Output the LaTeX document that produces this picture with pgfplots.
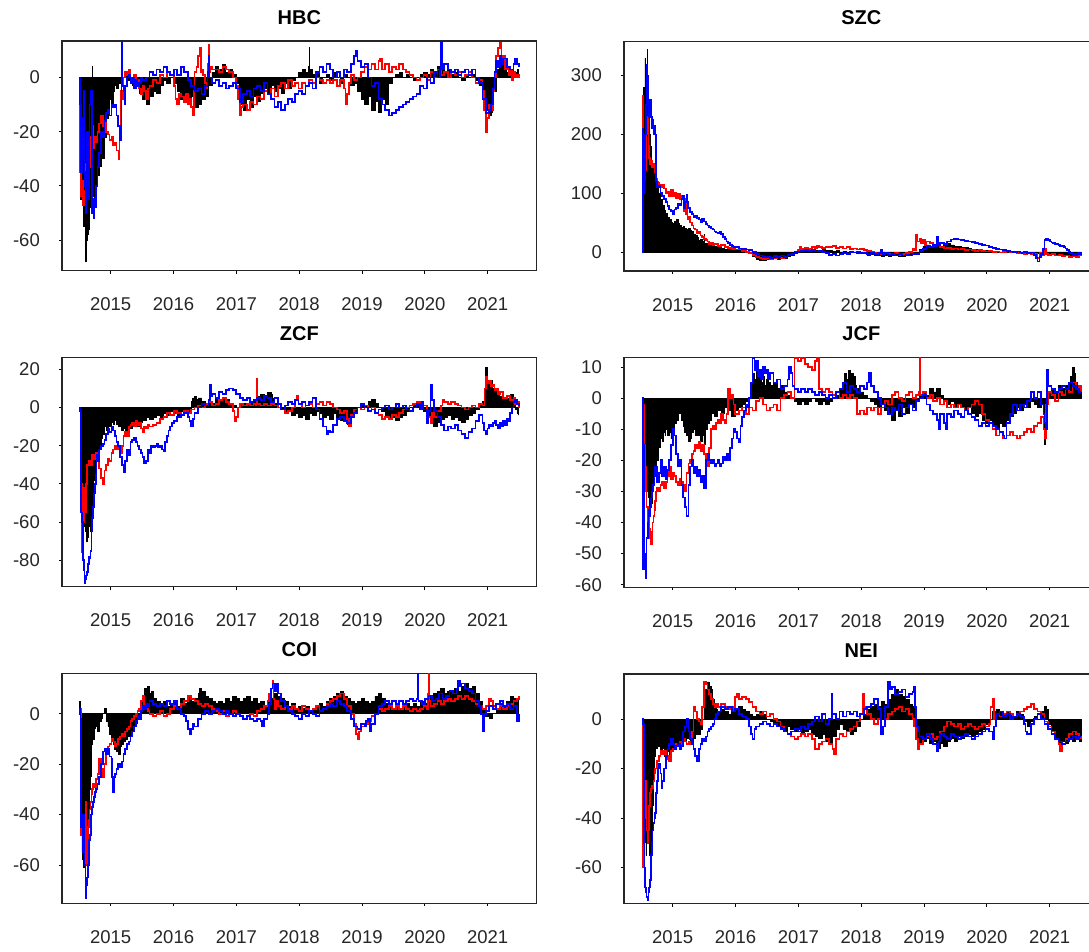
\documentclass[border=0pt]{standalone}
\usepackage{pgfplots}
\pgfplotsset{compat=1.18}
\usepackage{fontspec}
\setmainfont{Liberation Sans}
\pgfplotsset{
  panel/.style={
    scale only axis, width=474.7pt, height=229.5pt,
    anchor=north west,
    xmin=2014.225, xmax=2021.78,
    xtick={2015,2016,2017,2018,2019,2020,2021},
    xticklabels={2015,2016,2017,2018,2019,2020,2021},
    axis line style={line width=1.1pt, black!85},
    xtick pos=bottom, ytick pos=left,
    tick align=outside, major tick length=3pt,
    tick style={black, line width=0.8pt},
    /pgf/number format/assume math mode=true,
    ticklabel style={font=\fontsize{18.5}{20}\selectfont, text=black!85},
    xticklabel style={anchor=north, inner sep=0pt, yshift=-24pt},
    yticklabel style={anchor=east, inner sep=0pt, xshift=-19pt},
    title style={font=\bfseries\fontsize{20}{22}\selectfont, anchor=base, at={(0.5,1)}, yshift=11pt, inner sep=0pt},
  },
  blk/.style={black, fill=black, line width=0.8pt, const plot},
  rd/.style={red, line width=1.7pt, const plot},
  bl/.style={blue, line width=1.7pt, const plot},
}
\begin{document}
\begin{tikzpicture}
\useasboundingbox (0pt,0pt) rectangle (1089pt,-951pt);
\clip (0pt,0pt) rectangle (1089pt,-951pt);
% ---------------- HBC
\begin{axis}[panel, at={(62pt,-41pt)}, title={HBC}, ymin=-71.3, ymax=13.5, ytick={-60,-40,-20,0}]
\addplot[blk] coordinates {(2014.503,0) (2014.514,-35) (2014.525,-45) (2014.542,-40) (2014.570,-55) (2014.590,-45) (2014.597,-68) (2014.610,-60) (2014.625,-58) (2014.640,-50) (2014.652,-56) (2014.665,-40) (2014.675,-48) (2014.700,-45) (2014.706,4) (2014.712,-44) (2014.735,-48) (2014.763,-40) (2014.790,-36) (2014.818,-33) (2014.845,-28) (2014.873,-30) (2014.901,-22) (2014.928,-15) (2014.956,-12) (2014.983,-8) (2015.011,-10) (2015.039,-5) (2015.066,-3) (2015.094,-4) (2015.121,-2) (2015.149,-1) (2015.177,0) (2015.232,2) (2015.287,-1) (2015.342,-3) (2015.400,-2) (2015.453,-6) (2015.508,-8) (2015.563,-10) (2015.618,-7) (2015.673,-5) (2015.728,-6) (2015.784,-3) (2015.839,-1) (2015.894,-2) (2015.949,0) (2016.004,-2) (2016.060,-5) (2016.115,-8) (2016.170,-6) (2016.225,-10) (2016.280,-7) (2016.336,-11) (2016.391,-10) (2016.446,-8) (2016.501,-7) (2016.556,-3) (2016.611,2) (2016.667,4) (2016.722,3) (2016.777,5) (2016.832,2) (2016.887,3) (2016.943,1) (2016.998,-2) (2017.053,-10) (2017.108,-12) (2017.164,-8) (2017.219,-11) (2017.274,-7) (2017.329,-9) (2017.384,-6) (2017.439,-4) (2017.494,-6) (2017.550,-3) (2017.605,-5) (2017.660,-4) (2017.715,-6) (2017.770,-2) (2017.825,-4) (2017.881,-1) (2017.936,0) (2017.991,2) (2018.046,3) (2018.102,2) (2018.150,4) (2018.157,11) (2018.165,3) (2018.212,1) (2018.267,2) (2018.322,-2) (2018.377,0) (2018.433,1) (2018.488,-1) (2018.543,2) (2018.598,0) (2018.653,-2) (2018.709,1) (2018.764,0) (2018.819,-3) (2018.874,-2) (2018.929,-5) (2018.985,-8) (2019.040,-10) (2019.095,-7) (2019.150,-12) (2019.205,-9) (2019.260,-13) (2019.316,-8) (2019.371,-10) (2019.426,-2) (2019.481,0) (2019.536,1) (2019.591,2) (2019.647,0) (2019.702,1) (2019.757,0) (2019.812,-1) (2019.868,0) (2019.923,1) (2019.978,2) (2020.033,1) (2020.088,3) (2020.143,2) (2020.199,4) (2020.254,5) (2020.309,2) (2020.364,3) (2020.419,1) (2020.475,2) (2020.530,0) (2020.585,-1) (2020.640,1) (2020.695,0) (2020.751,1) (2020.806,-1) (2020.861,-3) (2020.916,-8) (2020.971,-12) (2021.026,-14) (2021.054,-13) (2021.082,-5) (2021.137,3) (2021.192,5) (2021.247,4) (2021.302,2) (2021.358,3) (2021.413,2) (2021.468,3) (2021.495,2)} \closedcycle;
\addplot[rd] coordinates {(2014.503,0) (2014.514,-35) (2014.525,-44) (2014.542,-38) (2014.556,-47) (2014.570,-42) (2014.584,-46) (2014.597,-32) (2014.611,-40) (2014.625,-30) (2014.640,-36) (2014.652,-28) (2014.665,-33) (2014.680,-22) (2014.694,-28) (2014.708,-18) (2014.722,-26) (2014.735,-22) (2014.763,-24) (2014.790,-20) (2014.818,-17) (2014.845,-14) (2014.873,-18) (2014.901,-16) (2014.928,-20) (2014.956,-21) (2014.983,-23) (2015.011,-22) (2015.039,-25) (2015.066,-24) (2015.094,-27) (2015.132,-30) (2015.140,-20) (2015.149,-22) (2015.163,-5) (2015.177,-8) (2015.204,0) (2015.232,2) (2015.259,1) (2015.287,3) (2015.315,0) (2015.342,-2) (2015.370,1) (2015.398,-3) (2015.425,-1) (2015.453,-4) (2015.480,-6) (2015.508,-3) (2015.535,-5) (2015.563,-8) (2015.590,-4) (2015.618,-3) (2015.673,-1) (2015.728,-2) (2015.784,1) (2015.839,0) (2015.894,2) (2015.949,1) (2016.004,-3) (2016.032,-8) (2016.060,-10) (2016.087,-6) (2016.115,-7) (2016.170,-9) (2016.198,-6) (2016.225,-10) (2016.253,-8) (2016.280,-11) (2016.308,-14) (2016.322,-5) (2016.336,2) (2016.364,4) (2016.391,8) (2016.418,11) (2016.432,2) (2016.446,3) (2016.473,1) (2016.501,-2) (2016.528,-4) (2016.542,5) (2016.556,12) (2016.570,2) (2016.584,4) (2016.611,3) (2016.667,3) (2016.722,2) (2016.777,4) (2016.832,3) (2016.887,2) (2016.943,0) (2016.998,-3) (2017.025,-8) (2017.053,-14) (2017.081,-11) (2017.108,-10) (2017.164,-12) (2017.219,-9) (2017.274,-10) (2017.329,-7) (2017.384,-8) (2017.439,-5) (2017.494,-6) (2017.550,-4) (2017.605,-7) (2017.660,-3) (2017.715,-2) (2017.770,-4) (2017.825,-1) (2017.881,-3) (2017.936,-2) (2017.991,-4) (2018.046,-2) (2018.102,-3) (2018.157,-1) (2018.212,-2) (2018.267,0) (2018.322,-1) (2018.377,-2) (2018.433,-1) (2018.488,-2) (2018.543,-1) (2018.598,-3) (2018.653,-1) (2018.709,-4) (2018.736,-10) (2018.764,-6) (2018.791,-2) (2018.819,1) (2018.874,-1) (2018.929,0) (2018.985,2) (2019.040,4) (2019.095,3) (2019.150,5) (2019.205,3) (2019.260,6) (2019.288,7) (2019.316,3) (2019.371,5) (2019.426,2) (2019.481,4) (2019.536,3) (2019.591,5) (2019.647,3) (2019.702,2) (2019.757,1) (2019.812,0) (2019.868,-1) (2019.923,0) (2019.978,1) (2020.033,-1) (2020.088,2) (2020.143,0) (2020.199,3) (2020.254,1) (2020.309,2) (2020.364,0) (2020.419,2) (2020.475,1) (2020.530,2) (2020.585,0) (2020.640,1) (2020.695,2) (2020.751,0) (2020.806,-2) (2020.861,-1) (2020.916,-5) (2020.943,-12) (2020.971,-20) (2020.999,-15) (2021.026,-10) (2021.054,-12) (2021.082,-5) (2021.110,0) (2021.137,8) (2021.165,11) (2021.192,13) (2021.220,6) (2021.247,8) (2021.275,3) (2021.302,4) (2021.330,1) (2021.358,3) (2021.386,-1) (2021.413,2) (2021.440,0) (2021.468,1) (2021.495,0)};
\addplot[bl] coordinates {(2014.503,0) (2014.514,-10) (2014.525,-30) (2014.531,-35) (2014.542,-15) (2014.556,-30) (2014.570,-5) (2014.584,-40) (2014.597,-50) (2014.611,-35) (2014.625,-20) (2014.638,-45) (2014.652,-25) (2014.665,-10) (2014.691,-5) (2014.700,-30) (2014.708,-50) (2014.724,-52) (2014.735,-45) (2014.749,-48) (2014.763,-40) (2014.790,-33) (2014.818,-28) (2014.845,-20) (2014.873,-22) (2014.901,-16) (2014.928,-13) (2014.956,-12) (2014.983,-14) (2015.011,-10) (2015.039,-11) (2015.066,-10) (2015.094,-14) (2015.121,-18) (2015.149,-23) (2015.165,-20) (2015.172,14) (2015.180,-3) (2015.204,-5) (2015.218,-10) (2015.232,-3) (2015.259,0) (2015.287,1) (2015.315,-2) (2015.342,0) (2015.370,-4) (2015.398,-1) (2015.425,-3) (2015.453,-2) (2015.480,0) (2015.508,-1) (2015.563,0) (2015.618,2) (2015.673,1) (2015.728,3) (2015.784,2) (2015.839,4) (2015.894,2) (2015.949,1) (2016.004,3) (2016.060,1) (2016.115,4) (2016.170,2) (2016.225,-1) (2016.280,-3) (2016.336,-5) (2016.391,-4) (2016.446,-6) (2016.501,-3) (2016.542,2) (2016.556,8) (2016.570,0) (2016.611,-2) (2016.667,-1) (2016.722,-3) (2016.777,-2) (2016.832,-4) (2016.887,-3) (2016.943,-2) (2016.998,-4) (2017.053,-9) (2017.108,-6) (2017.164,-5) (2017.219,-7) (2017.274,-4) (2017.329,-3) (2017.384,-5) (2017.439,-2) (2017.494,-6) (2017.550,-8) (2017.605,-11) (2017.660,-9) (2017.715,-12) (2017.770,-10) (2017.825,-8) (2017.881,-9) (2017.936,-6) (2017.991,-5) (2018.046,-6) (2018.102,-3) (2018.157,-2) (2018.212,-4) (2018.267,2) (2018.322,4) (2018.377,2) (2018.433,5) (2018.488,3) (2018.543,0) (2018.598,2) (2018.653,0) (2018.709,3) (2018.764,2) (2018.819,5) (2018.874,8) (2018.902,10) (2018.929,6) (2018.985,4) (2019.040,5) (2019.095,0) (2019.150,-3) (2019.205,-2) (2019.260,-8) (2019.316,-10) (2019.371,-12) (2019.426,-14) (2019.481,-13) (2019.536,-12) (2019.591,-11) (2019.647,-10) (2019.702,-9) (2019.757,-8) (2019.812,-7) (2019.868,-6) (2019.923,-3) (2019.978,-4) (2020.033,0) (2020.088,-2) (2020.143,2) (2020.199,0) (2020.240,3) (2020.254,14) (2020.268,3) (2020.309,5) (2020.364,3) (2020.419,2) (2020.475,3) (2020.530,1) (2020.585,2) (2020.640,3) (2020.695,1) (2020.751,3) (2020.806,0) (2020.861,-2) (2020.916,-8) (2020.971,-13) (2021.026,-12) (2021.054,-10) (2021.082,-4) (2021.110,2) (2021.137,6) (2021.165,4) (2021.192,8) (2021.220,5) (2021.247,7) (2021.302,4) (2021.358,3) (2021.413,5) (2021.440,7) (2021.468,5) (2021.495,4)};
\end{axis}
% ---------------- SZC
\begin{axis}[panel, at={(624pt,-41.5pt)}, title={SZC}, ymin=-32.4, ymax=358, ytick={0,100,200,300}]
\addplot[blk] coordinates {(2014.519,0) (2014.522,220) (2014.530,150) (2014.541,280) (2014.550,200) (2014.558,330) (2014.570,250) (2014.585,300) (2014.596,345) (2014.602,280) (2014.613,240) (2014.625,200) (2014.640,180) (2014.655,160) (2014.668,150) (2014.690,135) (2014.723,125) (2014.751,110) (2014.779,100) (2014.806,90) (2014.834,80) (2014.862,70) (2014.889,65) (2014.917,58) (2014.945,55) (2014.972,50) (2015.000,48) (2015.028,52) (2015.055,55) (2015.083,48) (2015.111,45) (2015.138,42) (2015.166,44) (2015.194,40) (2015.221,38) (2015.249,40) (2015.277,37) (2015.305,35) (2015.332,30) (2015.360,28) (2015.387,25) (2015.415,20) (2015.442,22) (2015.470,18) (2015.498,30) (2015.510,15) (2015.553,14) (2015.608,12) (2015.664,10) (2015.719,8) (2015.774,6) (2015.830,5) (2015.885,4) (2015.940,3) (2015.996,3) (2016.051,2) (2016.106,1) (2016.162,0) (2016.217,-3) (2016.272,-8) (2016.327,-12) (2016.383,-14) (2016.438,-15) (2016.493,-12) (2016.549,-13) (2016.604,-10) (2016.660,-12) (2016.715,-10) (2016.770,-11) (2016.825,-8) (2016.881,-5) (2016.936,-2) (2016.991,0) (2017.046,2) (2017.102,3) (2017.157,2) (2017.213,4) (2017.268,3) (2017.323,2) (2017.378,4) (2017.434,2) (2017.489,3) (2017.544,1) (2017.600,2) (2017.655,0) (2017.710,1) (2017.765,0) (2017.821,-1) (2017.876,0) (2017.931,-2) (2017.986,-1) (2018.042,-3) (2018.097,-5) (2018.153,-4) (2018.208,-6) (2018.263,-5) (2018.319,-7) (2018.374,-6) (2018.429,-8) (2018.485,-5) (2018.540,-6) (2018.595,-8) (2018.650,-7) (2018.706,-5) (2018.761,-6) (2018.816,-3) (2018.872,0) (2018.927,5) (2018.982,10) (2019.038,12) (2019.093,10) (2019.148,8) (2019.204,10) (2019.259,8) (2019.314,12) (2019.369,15) (2019.425,12) (2019.480,10) (2019.535,9) (2019.591,8) (2019.646,7) (2019.701,6) (2019.757,5) (2019.812,5) (2019.867,4) (2019.923,3) (2019.978,3) (2020.033,2) (2020.088,1) (2020.144,1) (2020.199,0) (2020.254,0) (2020.310,-1) (2020.365,0) (2020.420,-1) (2020.476,0) (2020.531,-2) (2020.586,0) (2020.642,-1) (2020.697,0) (2020.752,-2) (2020.808,-3) (2020.863,-1) (2020.918,0) (2020.973,-2) (2021.029,-3) (2021.084,-4) (2021.139,-3) (2021.195,-5) (2021.250,-4) (2021.305,-6) (2021.361,-8) (2021.416,-10) (2021.444,-7) (2021.471,-5) (2021.499,-3)} \closedcycle;
\addplot[rd] coordinates {(2014.519,0) (2014.522,265) (2014.530,150) (2014.541,190) (2014.550,160) (2014.558,140) (2014.570,175) (2014.585,200) (2014.596,230) (2014.602,220) (2014.613,180) (2014.625,160) (2014.640,150) (2014.655,155) (2014.668,145) (2014.690,150) (2014.710,140) (2014.723,135) (2014.737,125) (2014.751,120) (2014.765,118) (2014.779,115) (2014.806,110) (2014.834,115) (2014.862,108) (2014.889,100) (2014.917,103) (2014.945,95) (2014.972,105) (2015.000,95) (2015.028,100) (2015.055,92) (2015.083,98) (2015.111,90) (2015.138,95) (2015.166,93) (2015.180,70) (2015.194,90) (2015.208,65) (2015.221,80) (2015.235,55) (2015.249,60) (2015.277,50) (2015.305,45) (2015.332,40) (2015.360,38) (2015.387,32) (2015.415,35) (2015.442,28) (2015.470,25) (2015.498,22) (2015.525,20) (2015.553,18) (2015.581,14) (2015.608,15) (2015.636,12) (2015.664,13) (2015.719,10) (2015.774,12) (2015.830,8) (2015.885,7) (2015.940,5) (2015.996,4) (2016.051,5) (2016.106,2) (2016.162,0) (2016.217,-2) (2016.272,-5) (2016.327,-8) (2016.383,-10) (2016.438,-12) (2016.493,-10) (2016.549,-13) (2016.604,-11) (2016.660,-9) (2016.715,-10) (2016.770,-8) (2016.825,-6) (2016.881,-3) (2016.936,0) (2016.991,3) (2017.020,8) (2017.046,5) (2017.102,7) (2017.157,5) (2017.213,8) (2017.268,6) (2017.300,10) (2017.323,8) (2017.378,7) (2017.434,9) (2017.489,8) (2017.544,10) (2017.600,7) (2017.655,9) (2017.710,6) (2017.765,8) (2017.821,5) (2017.876,6) (2017.931,4) (2017.986,5) (2018.042,3) (2018.097,2) (2018.153,0) (2018.208,-2) (2018.263,-1) (2018.319,-3) (2018.374,-2) (2018.429,-4) (2018.485,-3) (2018.540,-2) (2018.595,-5) (2018.650,-3) (2018.706,-2) (2018.761,0) (2018.816,5) (2018.845,3) (2018.872,29) (2018.890,18) (2018.927,22) (2018.955,15) (2018.982,20) (2019.010,12) (2019.038,18) (2019.093,15) (2019.148,10) (2019.204,12) (2019.259,8) (2019.314,6) (2019.369,7) (2019.425,5) (2019.480,6) (2019.535,4) (2019.591,5) (2019.646,3) (2019.701,4) (2019.757,3) (2019.812,2) (2019.867,3) (2019.923,2) (2019.978,1) (2020.033,2) (2020.088,0) (2020.144,1) (2020.199,-1) (2020.254,0) (2020.310,1) (2020.365,-1) (2020.420,0) (2020.476,-2) (2020.531,-1) (2020.586,-3) (2020.642,-2) (2020.697,-4) (2020.752,-3) (2020.808,-10) (2020.836,-2) (2020.863,-5) (2020.918,5) (2020.945,-3) (2020.973,-5) (2021.029,-4) (2021.084,-6) (2021.139,-5) (2021.195,-7) (2021.250,-6) (2021.305,-8) (2021.361,-7) (2021.416,-9) (2021.471,-6) (2021.499,-4)};
\addplot[bl] coordinates {(2014.519,0) (2014.522,210) (2014.530,100) (2014.541,180) (2014.550,120) (2014.558,200) (2014.570,250) (2014.578,200) (2014.585,318) (2014.596,250) (2014.602,300) (2014.613,255) (2014.625,230) (2014.640,258) (2014.655,230) (2014.668,210) (2014.680,225) (2014.696,200) (2014.710,215) (2014.723,200) (2014.737,120) (2014.751,110) (2014.779,112) (2014.806,100) (2014.834,95) (2014.862,90) (2014.889,85) (2014.917,78) (2014.945,72) (2014.972,70) (2015.000,65) (2015.028,72) (2015.055,75) (2015.083,82) (2015.111,80) (2015.138,90) (2015.166,95) (2015.180,75) (2015.194,85) (2015.221,97) (2015.235,85) (2015.249,75) (2015.277,68) (2015.305,65) (2015.332,60) (2015.360,62) (2015.387,58) (2015.415,55) (2015.442,50) (2015.470,56) (2015.498,52) (2015.525,48) (2015.553,45) (2015.581,42) (2015.608,40) (2015.636,38) (2015.664,35) (2015.691,33) (2015.719,32) (2015.747,34) (2015.774,30) (2015.802,26) (2015.830,22) (2015.857,18) (2015.885,15) (2015.912,12) (2015.940,10) (2015.968,8) (2015.996,9) (2016.051,6) (2016.106,5) (2016.162,4) (2016.217,3) (2016.272,0) (2016.327,-3) (2016.383,-6) (2016.438,-9) (2016.493,-8) (2016.549,-10) (2016.604,-7) (2016.660,-9) (2016.715,-6) (2016.770,-8) (2016.825,-5) (2016.881,-3) (2016.936,0) (2016.991,1) (2017.046,2) (2017.102,3) (2017.157,2) (2017.213,3) (2017.268,1) (2017.323,2) (2017.378,0) (2017.434,-2) (2017.489,-5) (2017.544,-3) (2017.600,-6) (2017.655,-4) (2017.710,-2) (2017.765,-3) (2017.821,0) (2017.876,-1) (2017.931,0) (2017.986,-2) (2018.042,-1) (2018.097,-3) (2018.153,-2) (2018.208,-4) (2018.263,-2) (2018.319,3) (2018.340,-3) (2018.374,-2) (2018.429,-5) (2018.485,-3) (2018.540,-6) (2018.595,-4) (2018.650,-6) (2018.706,-5) (2018.761,-6) (2018.816,-4) (2018.872,-3) (2018.927,2) (2018.982,5) (2019.038,10) (2019.093,8) (2019.148,12) (2019.180,10) (2019.204,25) (2019.220,12) (2019.259,15) (2019.314,14) (2019.369,18) (2019.425,21) (2019.480,22) (2019.535,21) (2019.591,20) (2019.646,19) (2019.701,18) (2019.757,17) (2019.812,15) (2019.867,14) (2019.923,12) (2019.978,11) (2020.033,9) (2020.088,7) (2020.144,5) (2020.199,4) (2020.254,3) (2020.310,2) (2020.365,1) (2020.420,0) (2020.476,1) (2020.531,-1) (2020.586,0) (2020.642,-2) (2020.697,-1) (2020.752,-5) (2020.780,-10) (2020.808,-16) (2020.836,-8) (2020.863,-3) (2020.890,5) (2020.918,20) (2020.945,23) (2020.973,20) (2021.001,18) (2021.029,16) (2021.057,15) (2021.084,14) (2021.112,13) (2021.139,12) (2021.167,10) (2021.195,11) (2021.222,8) (2021.250,6) (2021.278,3) (2021.305,0) (2021.333,-2) (2021.361,-5) (2021.388,-3) (2021.416,-6) (2021.444,-2) (2021.471,-3) (2021.499,0)};
\end{axis}
% ---------------- ZCF
\begin{axis}[panel, at={(62pt,-357.3pt)}, title={ZCF}, ymin=-93.9, ymax=26.3, ytick={-80,-60,-40,-20,0,20}]
\addplot[blk] coordinates {(2014.503,0) (2014.514,-3) (2014.525,-50) (2014.542,-55) (2014.556,-48) (2014.570,-60) (2014.584,-62) (2014.597,-65) (2014.611,-70) (2014.625,-68) (2014.638,-55) (2014.652,-62) (2014.665,-60) (2014.680,-65) (2014.694,-55) (2014.708,-45) (2014.722,-38) (2014.735,-35) (2014.763,-28) (2014.790,-25) (2014.818,-20) (2014.845,-16) (2014.873,-14) (2014.901,-10) (2014.928,-12) (2014.956,-9) (2014.983,-10) (2015.011,-8) (2015.039,-9) (2015.066,-7) (2015.094,-9) (2015.121,-10) (2015.149,-8) (2015.177,-12) (2015.204,-11) (2015.232,-13) (2015.259,-10) (2015.287,-11) (2015.342,-9) (2015.398,-10) (2015.453,-8) (2015.508,-7) (2015.563,-5) (2015.618,-6) (2015.673,-5) (2015.728,-4) (2015.784,-5) (2015.839,-3) (2015.894,-4) (2015.949,-2) (2016.004,-3) (2016.060,-4) (2016.115,-2) (2016.170,-3) (2016.225,-2) (2016.253,-1) (2016.280,3) (2016.308,5) (2016.336,6) (2016.364,4) (2016.391,5) (2016.446,3) (2016.501,2) (2016.556,3) (2016.611,2) (2016.667,4) (2016.722,3) (2016.777,5) (2016.832,4) (2016.887,2) (2016.943,1) (2016.998,0) (2017.053,1) (2017.108,2) (2017.164,1) (2017.219,3) (2017.274,4) (2017.329,6) (2017.384,7) (2017.439,6) (2017.494,8) (2017.550,7) (2017.577,5) (2017.605,2) (2017.660,0) (2017.715,-1) (2017.770,-3) (2017.825,-2) (2017.881,-4) (2017.936,-3) (2017.991,-5) (2018.046,-4) (2018.102,-6) (2018.157,-3) (2018.212,-4) (2018.267,-2) (2018.322,-3) (2018.377,-5) (2018.433,-4) (2018.488,-6) (2018.543,-3) (2018.598,-5) (2018.653,-7) (2018.709,-6) (2018.764,-9) (2018.819,-5) (2018.874,-2) (2018.929,0) (2018.985,2) (2019.040,1) (2019.095,3) (2019.150,4) (2019.205,2) (2019.260,0) (2019.316,-2) (2019.371,-4) (2019.426,-6) (2019.481,-5) (2019.536,-7) (2019.591,-5) (2019.647,-4) (2019.702,-2) (2019.757,0) (2019.812,1) (2019.868,2) (2019.923,0) (2019.978,-2) (2020.033,-5) (2020.088,-7) (2020.143,-10) (2020.199,-8) (2020.254,-6) (2020.309,-5) (2020.364,-4) (2020.419,-6) (2020.475,-5) (2020.530,-7) (2020.585,-8) (2020.640,-6) (2020.695,-4) (2020.751,-3) (2020.806,-1) (2020.861,2) (2020.916,3) (2020.950,5) (2020.971,21) (2020.990,12) (2021.026,14) (2021.082,10) (2021.137,8) (2021.192,6) (2021.247,4) (2021.302,5) (2021.358,7) (2021.413,3) (2021.440,-1) (2021.468,-3) (2021.495,-4)} \closedcycle;
\addplot[rd] coordinates {(2014.503,0) (2014.514,-2) (2014.525,-40) (2014.542,-76) (2014.556,-60) (2014.570,-42) (2014.584,-52) (2014.597,-55) (2014.611,-40) (2014.625,-30) (2014.652,-28) (2014.680,-30) (2014.708,-25) (2014.735,-27) (2014.763,-24) (2014.790,-28) (2014.818,-32) (2014.845,-37) (2014.873,-40) (2014.901,-33) (2014.928,-30) (2014.956,-27) (2014.983,-28) (2015.011,-24) (2015.039,-22) (2015.066,-20) (2015.094,-22) (2015.121,-20) (2015.149,-24) (2015.177,-20) (2015.204,-15) (2015.232,-13) (2015.259,-15) (2015.287,-10) (2015.315,-9) (2015.342,-8) (2015.370,-10) (2015.398,-7) (2015.425,-9) (2015.453,-8) (2015.480,-11) (2015.508,-13) (2015.535,-10) (2015.563,-11) (2015.590,-9) (2015.618,-10) (2015.673,-9) (2015.728,-8) (2015.784,-6) (2015.839,-5) (2015.894,-3) (2015.949,-4) (2016.004,-2) (2016.060,-3) (2016.115,-4) (2016.170,-2) (2016.225,-3) (2016.280,-1) (2016.336,0) (2016.391,1) (2016.446,0) (2016.501,2) (2016.556,3) (2016.611,1) (2016.667,2) (2016.722,4) (2016.777,5) (2016.832,3) (2016.887,2) (2016.943,-2) (2016.970,-7) (2016.998,-5) (2017.025,0) (2017.053,2) (2017.108,1) (2017.164,2) (2017.219,1) (2017.274,2) (2017.315,1) (2017.322,15) (2017.330,2) (2017.384,1) (2017.439,2) (2017.494,1) (2017.550,2) (2017.605,1) (2017.660,0) (2017.715,-1) (2017.770,-3) (2017.825,-2) (2017.881,0) (2017.936,4) (2017.960,6) (2017.991,2) (2018.046,0) (2018.102,1) (2018.157,2) (2018.212,0) (2018.267,2) (2018.322,3) (2018.377,1) (2018.433,3) (2018.488,2) (2018.543,0) (2018.598,-1) (2018.653,-3) (2018.709,-2) (2018.764,-6) (2018.790,-10) (2018.819,-4) (2018.874,-1) (2018.929,0) (2018.985,-1) (2019.040,1) (2019.095,-2) (2019.150,0) (2019.205,-3) (2019.260,-4) (2019.316,-6) (2019.371,-5) (2019.426,-6) (2019.481,-4) (2019.536,-5) (2019.591,-3) (2019.647,-1) (2019.702,0) (2019.757,1) (2019.812,2) (2019.868,3) (2019.923,2) (2019.978,1) (2020.033,-2) (2020.060,-5) (2020.088,-8) (2020.115,-3) (2020.143,-5) (2020.199,-2) (2020.254,1) (2020.281,4) (2020.309,3) (2020.364,2) (2020.419,3) (2020.475,2) (2020.530,1) (2020.585,0) (2020.640,-1) (2020.695,0) (2020.751,1) (2020.806,0) (2020.861,2) (2020.916,1) (2020.950,10) (2020.971,16) (2020.999,13) (2021.026,14) (2021.054,11) (2021.082,12) (2021.110,9) (2021.137,10) (2021.165,7) (2021.192,8) (2021.247,5) (2021.302,6) (2021.358,4) (2021.413,5) (2021.440,2) (2021.468,3) (2021.495,0)};
\addplot[bl] coordinates {(2014.503,0) (2014.514,-2) (2014.525,-55) (2014.542,-60) (2014.556,-80) (2014.570,-85) (2014.584,-92) (2014.597,-90) (2014.611,-88) (2014.625,-86) (2014.638,-82) (2014.652,-78) (2014.665,-79) (2014.680,-75) (2014.694,-65) (2014.708,-58) (2014.722,-52) (2014.735,-45) (2014.749,-40) (2014.763,-35) (2014.776,-25) (2014.790,-28) (2014.818,-22) (2014.845,-20) (2014.873,-19) (2014.901,-17) (2014.928,-14) (2014.956,-11) (2014.983,-13) (2015.011,-10) (2015.039,-12) (2015.066,-15) (2015.094,-18) (2015.121,-20) (2015.149,-26) (2015.177,-30) (2015.204,-34) (2015.232,-28) (2015.259,-22) (2015.287,-25) (2015.315,-18) (2015.342,-17) (2015.370,-16) (2015.398,-18) (2015.425,-20) (2015.453,-22) (2015.480,-24) (2015.508,-26) (2015.535,-29) (2015.563,-28) (2015.590,-22) (2015.618,-24) (2015.646,-20) (2015.673,-21) (2015.700,-20) (2015.728,-19) (2015.756,-21) (2015.784,-20) (2015.811,-22) (2015.839,-23) (2015.866,-18) (2015.894,-15) (2015.921,-12) (2015.949,-10) (2015.977,-8) (2016.004,-7) (2016.060,-5) (2016.115,-4) (2016.170,-3) (2016.225,-5) (2016.253,-7) (2016.280,-10) (2016.308,-6) (2016.336,-3) (2016.391,0) (2016.446,2) (2016.501,1) (2016.556,4) (2016.584,12) (2016.597,6) (2016.611,7) (2016.667,5) (2016.722,8) (2016.777,7) (2016.832,9) (2016.887,10) (2016.943,9) (2016.998,7) (2017.053,5) (2017.108,4) (2017.164,5) (2017.219,3) (2017.274,4) (2017.329,5) (2017.384,4) (2017.439,6) (2017.494,5) (2017.550,3) (2017.605,5) (2017.660,2) (2017.715,-1) (2017.770,1) (2017.825,3) (2017.881,2) (2017.936,4) (2017.991,2) (2018.046,3) (2018.102,1) (2018.157,3) (2018.212,5) (2018.267,-1) (2018.322,-6) (2018.377,-10) (2018.433,-14) (2018.460,-12) (2018.488,-13) (2018.543,-9) (2018.598,-6) (2018.653,-5) (2018.709,-7) (2018.764,-8) (2018.819,-5) (2018.874,-3) (2018.929,0) (2018.985,2) (2019.040,0) (2019.095,-2) (2019.150,-1) (2019.205,-3) (2019.260,-1) (2019.316,0) (2019.371,1) (2019.426,-1) (2019.481,0) (2019.536,2) (2019.591,0) (2019.647,1) (2019.702,-1) (2019.757,-2) (2019.812,0) (2019.868,2) (2019.923,-1) (2019.950,3) (2019.978,-1) (2020.033,-8) (2020.060,-2) (2020.088,12) (2020.115,4) (2020.143,-2) (2020.199,-5) (2020.254,-9) (2020.309,-12) (2020.364,-10) (2020.419,-11) (2020.475,-9) (2020.530,-12) (2020.585,-14) (2020.640,-16) (2020.695,-13) (2020.751,-11) (2020.806,-7) (2020.861,-4) (2020.916,-8) (2020.943,-12) (2020.971,-14) (2020.999,-11) (2021.026,-9) (2021.054,-10) (2021.082,-8) (2021.110,-7) (2021.137,-9) (2021.165,-11) (2021.192,-8) (2021.220,-10) (2021.247,-7) (2021.275,-9) (2021.302,-6) (2021.330,-7) (2021.358,-3) (2021.386,0) (2021.413,3) (2021.440,4) (2021.468,2) (2021.495,1)};
\end{axis}
% ---------------- JCF
\begin{axis}[panel, at={(624pt,-357.7pt)}, title={JCF}, ymin=-60.8, ymax=13, ytick={-60,-50,-40,-30,-20,-10,0,10}]
\addplot[blk] coordinates {(2014.519,0) (2014.530,-5) (2014.541,-12) (2014.558,-15) (2014.574,-22) (2014.585,-28) (2014.602,-30) (2014.613,-32) (2014.625,-35) (2014.640,-33) (2014.655,-30) (2014.668,-34) (2014.680,-28) (2014.696,-25) (2014.710,-22) (2014.723,-25) (2014.737,-20) (2014.751,-18) (2014.765,-20) (2014.779,-15) (2014.792,-16) (2014.806,-13) (2014.820,-11) (2014.834,-14) (2014.848,-11) (2014.862,-10) (2014.876,-12) (2014.889,-10) (2014.917,-12) (2014.945,-11) (2014.972,-13) (2015.000,-10) (2015.028,-8) (2015.055,-7) (2015.083,-5) (2015.111,-5) (2015.138,-7) (2015.166,-9) (2015.194,-11) (2015.221,-12) (2015.249,-14) (2015.277,-13) (2015.305,-11) (2015.332,-10) (2015.360,-12) (2015.387,-10) (2015.415,-12) (2015.442,-14) (2015.470,-12) (2015.498,-15) (2015.525,-10) (2015.553,-8) (2015.581,-7) (2015.608,-5) (2015.664,-6) (2015.719,-4) (2015.774,-5) (2015.830,-3) (2015.885,-4) (2015.940,-6) (2015.996,-4) (2016.051,-3) (2016.106,-2) (2016.162,-1) (2016.217,0) (2016.245,3) (2016.272,8) (2016.300,6) (2016.327,10) (2016.355,7) (2016.383,9) (2016.410,5) (2016.438,7) (2016.465,4) (2016.493,6) (2016.521,5) (2016.549,4) (2016.604,5) (2016.660,3) (2016.715,4) (2016.770,2) (2016.825,1) (2016.881,0) (2016.936,-1) (2016.991,-2) (2017.046,-1) (2017.102,-2) (2017.157,-1) (2017.213,0) (2017.268,-1) (2017.323,-2) (2017.378,-1) (2017.434,-2) (2017.489,-1) (2017.544,0) (2017.600,1) (2017.655,3) (2017.710,4) (2017.738,8) (2017.765,6) (2017.793,9) (2017.821,5) (2017.848,8) (2017.876,7) (2017.904,4) (2017.931,3) (2017.986,2) (2018.042,1) (2018.097,0) (2018.153,-1) (2018.208,-2) (2018.263,-3) (2018.319,-2) (2018.374,-4) (2018.429,-5) (2018.485,-7) (2018.540,-4) (2018.595,-6) (2018.650,-3) (2018.706,-5) (2018.761,-2) (2018.816,-3) (2018.872,-1) (2018.927,1) (2018.982,2) (2019.038,1) (2019.093,3) (2019.148,2) (2019.204,3) (2019.259,1) (2019.314,-1) (2019.369,-2) (2019.425,-1) (2019.480,-3) (2019.535,-2) (2019.591,-3) (2019.646,-4) (2019.701,-3) (2019.757,-5) (2019.812,-6) (2019.867,-5) (2019.923,-7) (2019.978,-8) (2020.033,-7) (2020.088,-9) (2020.144,-10) (2020.199,-8) (2020.254,-9) (2020.310,-7) (2020.365,-6) (2020.420,-5) (2020.476,-3) (2020.531,-4) (2020.586,-2) (2020.642,-3) (2020.697,-1) (2020.752,-2) (2020.808,-3) (2020.863,-2) (2020.900,-4) (2020.918,-15) (2020.935,-2) (2020.973,2) (2021.029,3) (2021.084,2) (2021.139,4) (2021.195,3) (2021.250,4) (2021.305,5) (2021.333,7) (2021.361,10) (2021.388,8) (2021.416,5) (2021.444,3) (2021.471,4) (2021.499,2)} \closedcycle;
\addplot[rd] coordinates {(2014.519,0) (2014.530,-2) (2014.541,-15) (2014.558,-22) (2014.574,-30) (2014.585,-35) (2014.602,-40) (2014.613,-38) (2014.625,-42) (2014.640,-45) (2014.655,-47) (2014.668,-43) (2014.680,-40) (2014.696,-38) (2014.710,-36) (2014.723,-33) (2014.737,-30) (2014.751,-29) (2014.779,-30) (2014.806,-28) (2014.834,-27) (2014.862,-29) (2014.889,-27) (2014.917,-25) (2014.945,-22) (2014.972,-26) (2015.000,-24) (2015.028,-25) (2015.055,-27) (2015.083,-28) (2015.111,-26) (2015.138,-27) (2015.166,-28) (2015.194,-30) (2015.221,-24) (2015.249,-21) (2015.277,-20) (2015.305,-18) (2015.332,-17) (2015.360,-15) (2015.387,-16) (2015.415,-14) (2015.442,-17) (2015.470,-15) (2015.498,-18) (2015.525,-20) (2015.553,-22) (2015.581,-16) (2015.608,-10) (2015.636,-9) (2015.664,-10) (2015.691,-8) (2015.719,-7) (2015.747,-8) (2015.774,-5) (2015.802,-7) (2015.830,-8) (2015.857,-5) (2015.885,3) (2015.912,0) (2015.940,1) (2015.968,-2) (2015.996,-5) (2016.051,-4) (2016.106,-3) (2016.162,-5) (2016.217,-3) (2016.272,-4) (2016.327,-1) (2016.383,0) (2016.438,-2) (2016.493,-4) (2016.549,-3) (2016.604,-2) (2016.660,-4) (2016.715,0) (2016.770,1) (2016.825,2) (2016.881,0) (2016.936,13) (2016.991,12) (2017.046,13) (2017.102,11) (2017.157,10) (2017.213,9) (2017.268,12) (2017.296,13) (2017.323,3) (2017.378,2) (2017.434,3) (2017.489,2) (2017.544,1) (2017.600,2) (2017.655,0) (2017.710,1) (2017.765,0) (2017.821,1) (2017.876,0) (2017.931,-5) (2017.986,-4) (2018.042,-5) (2018.097,-3) (2018.153,-4) (2018.208,-3) (2018.263,-5) (2018.319,-3) (2018.374,-1) (2018.429,-2) (2018.485,1) (2018.540,2) (2018.595,0) (2018.650,-1) (2018.706,1) (2018.761,2) (2018.816,0) (2018.872,1) (2018.920,2) (2018.932,13) (2018.945,1) (2018.982,2) (2019.038,0) (2019.093,1) (2019.148,-1) (2019.204,0) (2019.259,-2) (2019.314,-1) (2019.369,-3) (2019.425,-2) (2019.480,-3) (2019.535,-2) (2019.591,-3) (2019.646,-4) (2019.701,-3) (2019.757,-2) (2019.812,-1) (2019.867,-2) (2019.923,-5) (2019.978,-7) (2020.033,-8) (2020.088,-10) (2020.144,-12) (2020.199,-11) (2020.254,-13) (2020.310,-12) (2020.365,-11) (2020.420,-12) (2020.476,-13) (2020.531,-12) (2020.586,-11) (2020.642,-10) (2020.697,-11) (2020.752,-9) (2020.808,-8) (2020.863,-6) (2020.900,-10) (2020.918,-13) (2020.945,-2) (2020.973,2) (2021.029,1) (2021.084,-1) (2021.139,2) (2021.195,1) (2021.250,3) (2021.305,2) (2021.361,5) (2021.416,3) (2021.471,4) (2021.499,2)};
\addplot[bl] coordinates {(2014.519,0) (2014.530,-55) (2014.541,-15) (2014.552,-50) (2014.563,-55) (2014.574,-58) (2014.585,-45) (2014.602,-40) (2014.613,-36) (2014.625,-38) (2014.640,-35) (2014.655,-32) (2014.668,-30) (2014.690,-28) (2014.710,-25) (2014.723,-22) (2014.751,-27) (2014.779,-24) (2014.806,-20) (2014.834,-25) (2014.862,-22) (2014.889,-26) (2014.917,-23) (2014.945,-20) (2014.972,-15) (2015.000,-10) (2015.028,-12) (2015.055,-18) (2015.083,-22) (2015.111,-20) (2015.138,-28) (2015.166,-32) (2015.194,-35) (2015.221,-38) (2015.249,-28) (2015.277,-22) (2015.305,-20) (2015.332,-24) (2015.360,-22) (2015.387,-25) (2015.415,-23) (2015.442,-27) (2015.470,-25) (2015.498,-29) (2015.525,-20) (2015.553,-18) (2015.581,-20) (2015.608,-21) (2015.636,-20) (2015.664,-22) (2015.691,-21) (2015.719,-20) (2015.747,-22) (2015.774,-21) (2015.802,-19) (2015.830,-20) (2015.857,-18) (2015.885,-20) (2015.912,-16) (2015.940,-13) (2015.968,-10) (2015.996,-11) (2016.023,-13) (2016.051,-14) (2016.078,-9) (2016.106,-6) (2016.134,-4) (2016.162,-2) (2016.189,-3) (2016.217,0) (2016.245,5) (2016.272,13) (2016.300,9) (2016.327,12) (2016.355,7) (2016.383,9) (2016.410,6) (2016.438,10) (2016.465,8) (2016.493,9) (2016.521,6) (2016.549,8) (2016.604,5) (2016.660,6) (2016.715,3) (2016.770,4) (2016.825,6) (2016.853,10) (2016.881,8) (2016.908,4) (2016.936,3) (2016.991,2) (2017.046,3) (2017.102,2) (2017.157,3) (2017.213,2) (2017.268,1) (2017.323,2) (2017.378,1) (2017.434,0) (2017.489,1) (2017.544,0) (2017.600,2) (2017.655,3) (2017.710,5) (2017.765,2) (2017.821,4) (2017.876,3) (2017.931,2) (2017.986,4) (2018.042,3) (2018.097,5) (2018.125,8) (2018.153,4) (2018.208,2) (2018.263,0) (2018.319,-2) (2018.374,-3) (2018.429,-5) (2018.485,-3) (2018.540,-4) (2018.595,-2) (2018.650,-5) (2018.706,-3) (2018.761,-2) (2018.816,-4) (2018.872,-1) (2018.927,0) (2018.982,1) (2019.038,-2) (2019.093,-4) (2019.148,-5) (2019.204,-7) (2019.231,-10) (2019.259,-5) (2019.314,-8) (2019.342,-10) (2019.369,-5) (2019.425,-6) (2019.480,-4) (2019.535,-5) (2019.591,-6) (2019.646,-4) (2019.701,-5) (2019.757,-6) (2019.812,-7) (2019.867,-9) (2019.923,-8) (2019.978,-9) (2020.033,-8) (2020.088,-9) (2020.144,-10) (2020.199,-11) (2020.254,-12) (2020.282,-13) (2020.310,-8) (2020.365,-5) (2020.420,-2) (2020.476,-4) (2020.531,-2) (2020.586,-3) (2020.642,-1) (2020.697,2) (2020.752,0) (2020.808,2) (2020.863,-2) (2020.900,-5) (2020.918,-8) (2020.935,-10) (2020.955,9) (2020.973,4) (2021.029,3) (2021.084,2) (2021.139,3) (2021.195,4) (2021.250,3) (2021.305,5) (2021.361,4) (2021.416,3) (2021.471,2) (2021.499,2)};
\end{axis}
% ---------------- COI
\begin{axis}[panel, at={(62pt,-673.7pt)}, title={COI}, ymin=-75.2, ymax=15.9, ytick={-60,-40,-20,0}]
\addplot[blk] coordinates {(2014.503,0) (2014.508,5) (2014.514,4) (2014.525,-40) (2014.542,-55) (2014.556,-58) (2014.570,-61) (2014.584,-50) (2014.597,-45) (2014.611,-55) (2014.625,-58) (2014.638,-60) (2014.652,-45) (2014.665,-30) (2014.680,-25) (2014.694,-12) (2014.708,-8) (2014.722,-10) (2014.735,-6) (2014.763,-5) (2014.790,-7) (2014.818,-3) (2014.845,-2) (2014.873,0) (2014.901,2) (2014.928,-3) (2014.956,-5) (2014.983,-8) (2015.011,-10) (2015.039,-12) (2015.066,-14) (2015.094,-15) (2015.121,-16) (2015.149,-13) (2015.177,-12) (2015.204,-11) (2015.232,-10) (2015.259,-8) (2015.287,-9) (2015.315,-7) (2015.342,-6) (2015.370,-5) (2015.398,-4) (2015.425,-2) (2015.453,0) (2015.480,3) (2015.508,6) (2015.535,10) (2015.563,9) (2015.590,11) (2015.618,8) (2015.646,9) (2015.673,6) (2015.728,5) (2015.784,4) (2015.839,5) (2015.894,3) (2015.949,4) (2016.004,5) (2016.060,3) (2016.115,6) (2016.170,4) (2016.225,7) (2016.280,5) (2016.336,6) (2016.391,8) (2016.418,10) (2016.446,9) (2016.501,7) (2016.556,6) (2016.611,5) (2016.667,4) (2016.722,5) (2016.777,4) (2016.832,6) (2016.887,5) (2016.943,7) (2016.998,6) (2017.053,5) (2017.108,6) (2017.164,7) (2017.219,5) (2017.274,6) (2017.329,4) (2017.384,5) (2017.439,3) (2017.494,5) (2017.550,6) (2017.605,8) (2017.660,7) (2017.715,6) (2017.770,5) (2017.825,3) (2017.881,4) (2017.936,2) (2017.991,3) (2018.046,2) (2018.102,3) (2018.157,1) (2018.212,2) (2018.267,3) (2018.322,4) (2018.377,3) (2018.433,5) (2018.488,6) (2018.543,7) (2018.598,8) (2018.653,9) (2018.709,7) (2018.764,6) (2018.819,5) (2018.874,4) (2018.929,5) (2018.985,6) (2019.040,5) (2019.095,4) (2019.150,5) (2019.205,7) (2019.260,8) (2019.316,6) (2019.371,4) (2019.426,3) (2019.481,2) (2019.536,3) (2019.591,2) (2019.647,3) (2019.702,4) (2019.757,3) (2019.812,4) (2019.868,3) (2019.923,5) (2019.978,4) (2020.033,6) (2020.088,7) (2020.143,8) (2020.199,9) (2020.254,10) (2020.309,8) (2020.364,9) (2020.419,8) (2020.475,10) (2020.530,9) (2020.585,11) (2020.640,12) (2020.695,10) (2020.751,11) (2020.806,8) (2020.861,5) (2020.916,2) (2020.971,-1) (2021.026,-2) (2021.082,0) (2021.137,2) (2021.192,4) (2021.247,3) (2021.302,5) (2021.358,7) (2021.413,6) (2021.468,5) (2021.495,6)} \closedcycle;
\addplot[rd] coordinates {(2014.503,0) (2014.508,2) (2014.525,-30) (2014.531,-48) (2014.542,-45) (2014.556,-50) (2014.570,-55) (2014.584,-40) (2014.597,-35) (2014.611,-60) (2014.625,-55) (2014.638,-45) (2014.652,-42) (2014.665,-38) (2014.680,-35) (2014.694,-32) (2014.708,-30) (2014.722,-28) (2014.735,-29) (2014.763,-26) (2014.790,-24) (2014.818,-18) (2014.845,-22) (2014.873,-25) (2014.901,-20) (2014.928,-15) (2014.956,-13) (2014.983,-12) (2015.011,-10) (2015.039,-11) (2015.066,-13) (2015.094,-12) (2015.121,-10) (2015.149,-9) (2015.177,-8) (2015.204,-9) (2015.232,-7) (2015.259,-6) (2015.287,-5) (2015.315,-3) (2015.342,-2) (2015.370,-1) (2015.398,0) (2015.425,1) (2015.453,2) (2015.480,5) (2015.508,7) (2015.535,3) (2015.563,2) (2015.590,1) (2015.618,0) (2015.673,-1) (2015.728,0) (2015.784,1) (2015.839,-1) (2015.894,0) (2015.949,2) (2016.004,3) (2016.060,2) (2016.115,4) (2016.170,5) (2016.225,7) (2016.280,6) (2016.336,5) (2016.391,4) (2016.446,3) (2016.501,4) (2016.556,3) (2016.611,2) (2016.667,1) (2016.722,0) (2016.777,1) (2016.832,-1) (2016.887,0) (2016.943,1) (2016.998,0) (2017.053,-1) (2017.108,-2) (2017.164,-1) (2017.219,0) (2017.274,-1) (2017.329,1) (2017.384,2) (2017.439,3) (2017.494,5) (2017.522,8) (2017.550,10) (2017.577,13) (2017.591,6) (2017.605,2) (2017.633,5) (2017.660,3) (2017.715,2) (2017.770,3) (2017.825,2) (2017.881,3) (2017.936,2) (2017.991,1) (2018.046,3) (2018.102,2) (2018.157,1) (2018.212,2) (2018.267,3) (2018.322,1) (2018.377,2) (2018.433,4) (2018.488,5) (2018.543,6) (2018.598,7) (2018.653,8) (2018.709,6) (2018.764,3) (2018.819,0) (2018.874,-4) (2018.902,-8) (2018.929,-10) (2018.957,-7) (2018.985,-5) (2019.040,-4) (2019.095,-3) (2019.150,-1) (2019.205,0) (2019.260,2) (2019.316,1) (2019.371,2) (2019.426,3) (2019.481,2) (2019.536,3) (2019.591,2) (2019.647,3) (2019.702,2) (2019.757,1) (2019.812,2) (2019.868,1) (2019.923,2) (2019.978,3) (2020.033,2) (2020.047,8) (2020.061,16) (2020.075,5) (2020.088,3) (2020.143,4) (2020.199,5) (2020.254,4) (2020.309,5) (2020.364,6) (2020.419,5) (2020.475,6) (2020.530,7) (2020.585,6) (2020.640,7) (2020.695,6) (2020.751,5) (2020.806,4) (2020.861,3) (2020.916,2) (2020.971,3) (2021.026,6) (2021.054,5) (2021.082,3) (2021.137,2) (2021.192,3) (2021.247,2) (2021.302,3) (2021.358,4) (2021.413,5) (2021.468,6) (2021.495,7)};
\addplot[bl] coordinates {(2014.503,0) (2014.508,2) (2014.520,-2) (2014.525,-45) (2014.542,-40) (2014.556,-55) (2014.570,-40) (2014.584,-60) (2014.597,-73) (2014.611,-68) (2014.625,-65) (2014.638,-60) (2014.652,-50) (2014.669,-48) (2014.685,-40) (2014.700,-37) (2014.715,-35) (2014.730,-33) (2014.750,-31) (2014.770,-30) (2014.790,-28) (2014.818,-25) (2014.845,-20) (2014.873,-15) (2014.901,-14) (2014.928,-16) (2014.956,-14) (2014.983,-17) (2015.011,-18) (2015.025,-25) (2015.039,-31) (2015.052,-25) (2015.066,-24) (2015.094,-22) (2015.121,-20) (2015.149,-21) (2015.177,-19) (2015.204,-16) (2015.232,-14) (2015.259,-12) (2015.287,-11) (2015.315,-9) (2015.342,-7) (2015.370,-5) (2015.398,-3) (2015.425,-1) (2015.453,-2) (2015.480,1) (2015.508,3) (2015.535,2) (2015.563,4) (2015.590,3) (2015.618,5) (2015.673,4) (2015.728,3) (2015.784,4) (2015.839,3) (2015.894,5) (2015.949,4) (2016.004,5) (2016.060,2) (2016.115,0) (2016.170,-1) (2016.198,-3) (2016.225,-6) (2016.253,-8) (2016.280,-6) (2016.308,-4) (2016.336,-5) (2016.391,-2) (2016.446,0) (2016.501,1) (2016.556,0) (2016.611,1) (2016.667,2) (2016.722,1) (2016.777,0) (2016.832,1) (2016.887,0) (2016.943,-1) (2016.998,0) (2017.053,-1) (2017.108,-2) (2017.164,-1) (2017.219,-2) (2017.274,-3) (2017.329,-2) (2017.384,-3) (2017.412,-5) (2017.439,-2) (2017.494,0) (2017.522,4) (2017.550,10) (2017.577,12) (2017.605,9) (2017.633,12) (2017.660,8) (2017.715,5) (2017.770,3) (2017.825,1) (2017.881,0) (2017.936,-1) (2017.991,-2) (2018.046,0) (2018.102,-1) (2018.157,1) (2018.212,0) (2018.267,-1) (2018.322,1) (2018.377,2) (2018.433,3) (2018.488,4) (2018.543,3) (2018.598,5) (2018.653,4) (2018.709,3) (2018.764,1) (2018.819,-2) (2018.874,-5) (2018.929,-6) (2018.985,-4) (2019.040,-5) (2019.068,-3) (2019.095,-2) (2019.123,-7) (2019.150,-4) (2019.205,0) (2019.260,3) (2019.316,4) (2019.371,5) (2019.426,4) (2019.481,5) (2019.536,4) (2019.591,5) (2019.647,4) (2019.702,5) (2019.757,6) (2019.812,5) (2019.868,6) (2019.885,16) (2019.900,5) (2019.950,4) (2020.005,6) (2020.060,7) (2020.115,5) (2020.170,6) (2020.225,8) (2020.281,6) (2020.336,7) (2020.391,9) (2020.447,8) (2020.502,10) (2020.530,13) (2020.558,11) (2020.585,12) (2020.640,10) (2020.695,9) (2020.751,8) (2020.806,5) (2020.861,3) (2020.890,0) (2020.916,-7) (2020.943,0) (2020.971,1) (2021.026,3) (2021.082,2) (2021.137,4) (2021.192,5) (2021.247,3) (2021.302,4) (2021.358,2) (2021.413,3) (2021.468,-3) (2021.495,0)};
\end{axis}
% ---------------- NEI
\begin{axis}[panel, at={(624pt,-674pt)}, title={NEI}, ymin=-74.5, ymax=18.2, ytick={-60,-40,-20,0}]
\addplot[blk] coordinates {(2014.519,0) (2014.530,-20) (2014.541,-50) (2014.558,-45) (2014.574,-55) (2014.585,-50) (2014.602,-35) (2014.613,-40) (2014.625,-55) (2014.640,-60) (2014.655,-52) (2014.668,-50) (2014.680,-35) (2014.696,-25) (2014.710,-15) (2014.723,-12) (2014.751,-10) (2014.779,-11) (2014.806,-13) (2014.834,-12) (2014.862,-15) (2014.889,-14) (2014.917,-13) (2014.945,-15) (2014.972,-12) (2015.000,-12) (2015.028,-11) (2015.055,-10) (2015.083,-11) (2015.111,-10) (2015.138,-9) (2015.166,-8) (2015.194,-9) (2015.221,-8) (2015.249,-7) (2015.277,-9) (2015.305,-10) (2015.332,-8) (2015.360,-6) (2015.387,-5) (2015.415,-6) (2015.442,-4) (2015.470,0) (2015.498,5) (2015.525,12) (2015.553,15) (2015.581,13) (2015.608,12) (2015.636,8) (2015.664,5) (2015.691,4) (2015.719,3) (2015.774,4) (2015.830,3) (2015.885,2) (2015.940,3) (2015.996,4) (2016.051,5) (2016.106,4) (2016.162,3) (2016.217,2) (2016.272,1) (2016.327,2) (2016.383,3) (2016.438,2) (2016.493,0) (2016.549,-1) (2016.604,-2) (2016.660,-3) (2016.715,-4) (2016.770,-5) (2016.825,-3) (2016.881,-4) (2016.936,-5) (2016.991,-4) (2017.046,-6) (2017.102,-5) (2017.157,-4) (2017.213,-6) (2017.268,-7) (2017.323,-8) (2017.378,-6) (2017.434,-9) (2017.489,-10) (2017.544,-7) (2017.600,-4) (2017.655,-2) (2017.710,-4) (2017.765,-5) (2017.821,-6) (2017.876,-5) (2017.931,-3) (2017.986,0) (2018.042,2) (2018.097,4) (2018.153,5) (2018.208,6) (2018.263,5) (2018.319,7) (2018.374,6) (2018.429,8) (2018.485,10) (2018.540,12) (2018.595,10) (2018.650,9) (2018.706,8) (2018.761,6) (2018.816,5) (2018.844,2) (2018.872,-6) (2018.899,-8) (2018.927,-10) (2018.982,-9) (2019.038,-8) (2019.093,-10) (2019.148,-9) (2019.204,-12) (2019.259,-10) (2019.314,-11) (2019.369,-9) (2019.425,-8) (2019.480,-9) (2019.535,-7) (2019.591,-8) (2019.646,-7) (2019.701,-6) (2019.757,-7) (2019.812,-6) (2019.867,-5) (2019.923,-4) (2019.978,-2) (2020.033,0) (2020.088,3) (2020.144,4) (2020.199,3) (2020.254,2) (2020.310,3) (2020.365,2) (2020.420,1) (2020.476,3) (2020.531,2) (2020.586,-1) (2020.642,-3) (2020.697,-1) (2020.752,1) (2020.808,0) (2020.863,3) (2020.918,5) (2020.945,4) (2020.973,-2) (2021.029,-5) (2021.084,-8) (2021.139,-10) (2021.195,-9) (2021.250,-10) (2021.305,-8) (2021.361,-9) (2021.416,-8) (2021.471,-9) (2021.499,-8)} \closedcycle;
\addplot[rd] coordinates {(2014.519,0) (2014.522,-60) (2014.541,-40) (2014.558,-25) (2014.574,-40) (2014.585,-45) (2014.602,-50) (2014.613,-45) (2014.625,-35) (2014.640,-30) (2014.655,-28) (2014.668,-27) (2014.679,-28) (2014.696,-25) (2014.710,-22) (2014.723,-20) (2014.751,-17) (2014.779,-15) (2014.806,-13) (2014.834,-14) (2014.862,-13) (2014.889,-16) (2014.917,-15) (2014.945,-17) (2014.972,-13) (2015.000,-12) (2015.028,-11) (2015.055,-10) (2015.083,-11) (2015.111,-9) (2015.138,-10) (2015.166,-8) (2015.194,-9) (2015.221,-10) (2015.249,-9) (2015.277,-10) (2015.305,-5) (2015.332,5) (2015.360,3) (2015.387,0) (2015.415,-1) (2015.442,-2) (2015.470,5) (2015.498,15) (2015.525,14) (2015.553,12) (2015.581,10) (2015.608,8) (2015.636,6) (2015.664,5) (2015.691,6) (2015.719,5) (2015.774,6) (2015.830,5) (2015.885,4) (2015.940,3) (2015.968,5) (2015.996,9) (2016.023,10) (2016.051,8) (2016.106,9) (2016.162,8) (2016.217,7) (2016.272,5) (2016.327,3) (2016.383,2) (2016.438,3) (2016.493,1) (2016.549,2) (2016.604,0) (2016.660,-1) (2016.715,-3) (2016.770,-5) (2016.825,-6) (2016.881,-7) (2016.936,-8) (2016.991,-7) (2017.046,-6) (2017.102,-7) (2017.157,-6) (2017.213,-8) (2017.268,-12) (2017.323,-10) (2017.378,-9) (2017.434,-8) (2017.489,-10) (2017.544,-12) (2017.572,-14) (2017.600,-8) (2017.655,-6) (2017.710,-7) (2017.765,-5) (2017.821,-4) (2017.876,-3) (2017.931,-1) (2017.986,2) (2018.020,10) (2018.042,5) (2018.097,2) (2018.153,0) (2018.208,-2) (2018.263,0) (2018.319,-3) (2018.374,0) (2018.429,2) (2018.485,3) (2018.540,4) (2018.595,5) (2018.650,3) (2018.706,4) (2018.761,2) (2018.816,0) (2018.844,-3) (2018.872,-8) (2018.899,-12) (2018.927,-10) (2018.982,-8) (2019.038,-7) (2019.093,-6) (2019.148,-8) (2019.204,-7) (2019.259,-5) (2019.314,-3) (2019.369,-1) (2019.425,-2) (2019.480,-3) (2019.535,-2) (2019.591,-4) (2019.646,-3) (2019.701,-2) (2019.757,-3) (2019.812,-4) (2019.867,-3) (2019.923,-2) (2019.978,-3) (2020.033,-2) (2020.060,5) (2020.088,8) (2020.116,0) (2020.144,2) (2020.199,1) (2020.254,2) (2020.310,3) (2020.365,2) (2020.420,1) (2020.476,2) (2020.531,3) (2020.586,4) (2020.642,5) (2020.697,6) (2020.752,4) (2020.808,3) (2020.863,2) (2020.918,-1) (2020.973,-3) (2021.029,-5) (2021.084,-8) (2021.139,-10) (2021.167,-13) (2021.195,-10) (2021.250,-8) (2021.305,-6) (2021.361,-5) (2021.416,-6) (2021.471,-7) (2021.499,-8)};
\addplot[bl] coordinates {(2014.519,0) (2014.530,-2) (2014.541,-50) (2014.552,-60) (2014.563,-68) (2014.574,-70) (2014.585,-72) (2014.602,-73) (2014.613,-70) (2014.625,-68) (2014.640,-65) (2014.655,-55) (2014.668,-50) (2014.680,-45) (2014.696,-42) (2014.710,-40) (2014.723,-38) (2014.737,-30) (2014.751,-25) (2014.765,-20) (2014.779,-18) (2014.806,-22) (2014.820,-28) (2014.834,-25) (2014.862,-20) (2014.889,-15) (2014.917,-12) (2014.945,-10) (2014.972,-8) (2015.000,-10) (2015.028,-12) (2015.055,-11) (2015.083,-10) (2015.111,-12) (2015.138,-11) (2015.166,-5) (2015.194,-3) (2015.221,0) (2015.249,-5) (2015.277,-8) (2015.305,-10) (2015.332,-12) (2015.360,-15) (2015.387,-17) (2015.415,-12) (2015.442,-10) (2015.470,-8) (2015.498,-9) (2015.525,-7) (2015.553,-5) (2015.581,-4) (2015.608,-3) (2015.636,-2) (2015.664,0) (2015.691,2) (2015.719,3) (2015.774,5) (2015.830,4) (2015.885,5) (2015.940,3) (2015.996,4) (2016.051,2) (2016.106,1) (2016.162,0) (2016.217,-3) (2016.245,-6) (2016.272,-8) (2016.300,-4) (2016.327,-3) (2016.383,-2) (2016.438,-1) (2016.493,-2) (2016.549,-3) (2016.604,-2) (2016.660,-3) (2016.715,-4) (2016.770,-5) (2016.825,-6) (2016.881,-5) (2016.936,-4) (2016.991,-5) (2017.046,-3) (2017.102,-4) (2017.157,-2) (2017.213,-1) (2017.268,1) (2017.323,-1) (2017.378,2) (2017.434,-2) (2017.489,0) (2017.530,10) (2017.544,2) (2017.600,0) (2017.655,3) (2017.710,1) (2017.765,3) (2017.821,2) (2017.876,3) (2017.931,1) (2017.986,2) (2018.042,4) (2018.097,5) (2018.153,6) (2018.208,8) (2018.263,4) (2018.319,-6) (2018.350,-3) (2018.374,5) (2018.429,15) (2018.457,12) (2018.485,13) (2018.540,10) (2018.595,11) (2018.650,12) (2018.706,9) (2018.761,10) (2018.816,11) (2018.844,13) (2018.860,5) (2018.872,-3) (2018.899,-5) (2018.927,-7) (2018.982,-8) (2019.038,-6) (2019.093,-8) (2019.148,-10) (2019.204,-13) (2019.231,-9) (2019.259,-6) (2019.314,-7) (2019.369,-8) (2019.425,-6) (2019.480,-7) (2019.535,-8) (2019.591,-7) (2019.646,-6) (2019.701,-7) (2019.757,-8) (2019.812,-7) (2019.867,-6) (2019.923,-5) (2019.978,-4) (2020.033,-5) (2020.088,-8) (2020.116,-3) (2020.144,2) (2020.199,3) (2020.254,1) (2020.310,2) (2020.365,0) (2020.420,1) (2020.476,2) (2020.531,1) (2020.586,-2) (2020.614,-5) (2020.642,-6) (2020.697,-2) (2020.752,0) (2020.808,2) (2020.863,0) (2020.918,-2) (2020.973,-4) (2021.029,-6) (2021.084,-8) (2021.139,-9) (2021.195,-10) (2021.250,-9) (2021.305,-8) (2021.361,-7) (2021.416,-8) (2021.471,-7) (2021.499,-7)};
\end{axis}
\end{tikzpicture}
\end{document}
